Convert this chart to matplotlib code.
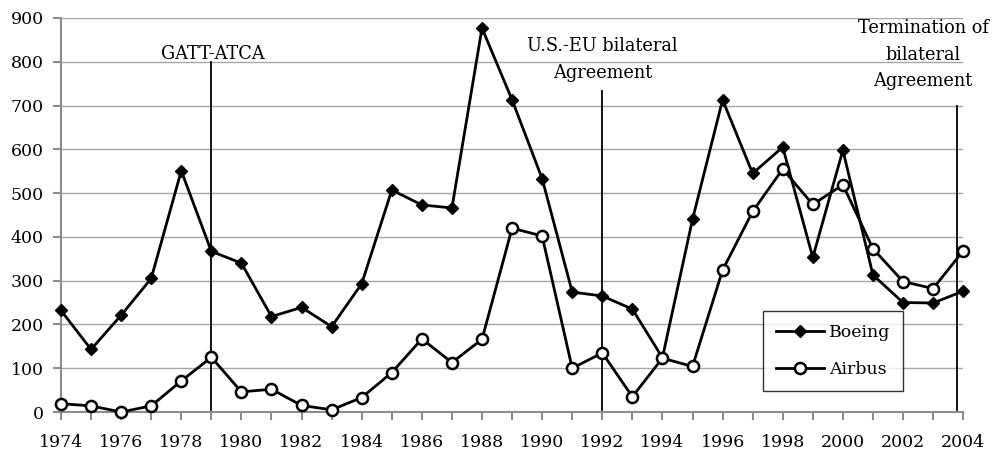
import matplotlib
matplotlib.use("Agg")
import matplotlib.pyplot as plt

# Orders per year
years = list(range(1974, 2005))
boeing = [232, 143, 221, 305, 551, 367, 340, 218, 239, 195,
          293, 507, 473, 466, 877, 713, 533, 274, 265, 235,
          124, 440, 713, 545, 605, 353, 598, 313, 250, 249, 276]
airbus = [19, 14, 0, 14, 71, 125, 46, 52, 15, 5,
          33, 90, 167, 113, 166, 420, 402, 100, 135, 35,
          123, 104, 324, 458, 555, 474, 519, 373, 298, 282, 368]

# Policy events: year of the marker line, its top, and the label
event_years = [1979, 1992, 2003.8]
event_tops = [800, 733, 700]
event_labels = ["GATT-ATCA", "U.S.-EU bilateral\nAgreement",
                "Termination of\nbilateral\nAgreement"]
label_x = [1979.05, 1992.0, 2002.67]
label_top = [838, 856, 897]

plt.rcParams["font.family"] = ["DejaVu Serif"]
plt.rcParams["font.size"] = 12.5

fig = plt.figure(figsize=(9.98, 4.55), dpi=100)
ax = fig.add_axes([0.0611, 0.0945, 0.904, 0.866])

grid_color = "#a6a6a6"
for v in range(100, 1000, 100):
    ax.axhline(v, color=grid_color, lw=1.0, zorder=0)

ax.plot(years, boeing, color="black", lw=2, marker="D", ms=6.5,
        mfc="black", mec="black", label="Boeing", clip_on=False, zorder=4)
ax.plot(years, airbus, color="black", lw=2, marker="o", ms=8,
        mfc="white", mec="black", mew=1.8, label="Airbus", clip_on=False, zorder=5)

for x, top in zip(event_years, event_tops):
    ax.plot([x, x], [5, top], color="black", lw=1.3, zorder=3)
for lx, ly, text in zip(label_x, label_top, event_labels):
    ax.text(lx, ly, text, ha="center", va="top", linespacing=1.6, fontsize=12.8)

ax.set_xlim(1974, 2004)
ax.set_ylim(0, 900)
ax.set_xticks(range(1974, 2005, 2))
ax.set_xticks(range(1974, 2005, 1), minor=True)
ax.set_yticks(range(0, 1000, 100))

for side in ("top", "right"):
    ax.spines[side].set_visible(False)
for side in ("left", "bottom"):
    ax.spines[side].set_color("#8c8c8c")
    ax.spines[side].set_linewidth(1.5)
ax.tick_params(axis="both", which="both", color="#8c8c8c", width=1.5, length=6)
ax.tick_params(axis="x", which="major", pad=10)
ax.tick_params(axis="y", pad=6.5)

leg = ax.legend(loc="lower left", bbox_to_anchor=(0.778, 0.053), borderaxespad=0,
                frameon=True, fancybox=False, edgecolor="black", handlelength=2.75,
                handletextpad=0.3, labelspacing=1.15, borderpad=0.75, fontsize=12.5)
leg.get_frame().set_linewidth(1.0)

fig.savefig("out.png", dpi=100)
